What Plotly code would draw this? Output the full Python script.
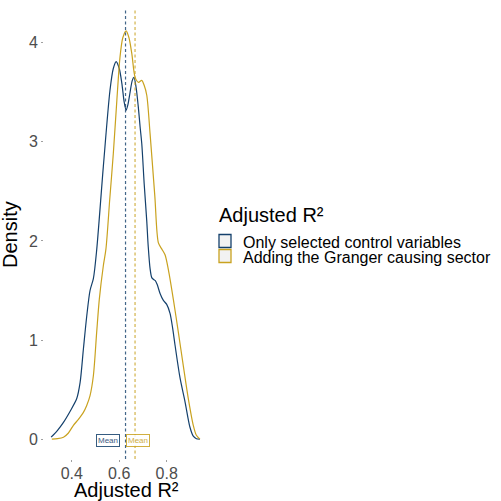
import plotly.graph_objects as go

# ---- data ----
series_names = ["Only selected control variables", "Adding the Granger causing sector"]

blue_x = [0.313, 0.34, 0.365, 0.395, 0.421, 0.435, 0.449, 0.463, 0.477, 0.491, 0.505,
          0.533, 0.561, 0.575, 0.587, 0.600, 0.611, 0.621, 0.629, 0.637, 0.645, 0.655,
          0.662, 0.671, 0.680, 0.688, 0.695, 0.705, 0.716, 0.722, 0.730, 0.737, 0.745,
          0.752, 0.760, 0.772, 0.786, 0.800, 0.814, 0.825, 0.835, 0.856, 0.877, 0.898,
          0.912, 0.925, 0.94]
blue_y = [0.02, 0.09, 0.17, 0.29, 0.41, 0.57, 0.91, 1.24, 1.50, 1.62, 1.91,
          2.75, 3.52, 3.74, 3.81, 3.74, 3.59, 3.40, 3.32, 3.38, 3.49, 3.62,
          3.65, 3.55, 3.36, 3.15, 2.98, 2.58, 2.2, 1.95, 1.72, 1.63, 1.61,
          1.60, 1.56, 1.47, 1.40, 1.36, 1.27, 1.12, 0.95, 0.62, 0.38, 0.12,
          0.03, 0.005, 0.0]

gold_x = [0.316, 0.34, 0.365, 0.385, 0.407, 0.428, 0.449, 0.463, 0.477, 0.491, 0.505,
          0.516, 0.533, 0.544, 0.560, 0.575, 0.590, 0.603, 0.615, 0.629, 0.641, 0.653,
          0.667, 0.681, 0.695, 0.705, 0.716, 0.730, 0.750, 0.765, 0.779, 0.793, 0.807,
          0.828, 0.849, 0.870, 0.891, 0.912, 0.925, 0.94]
gold_y = [0.0, 0.005, 0.02, 0.06, 0.14, 0.2, 0.27, 0.34, 0.44, 0.64, 1.08,
          1.41, 1.75, 1.92, 2.42, 2.88, 3.42, 3.85, 4.05, 4.12, 4.05, 3.89,
          3.65, 3.60, 3.62, 3.57, 3.47, 3.08, 2.45, 1.98, 1.92, 1.86, 1.71,
          1.41, 1.08, 0.74, 0.41, 0.14, 0.04, 0.0]

means = [0.6265, 0.6666]
mean_label = "Mean"

x_ticks = [0.4, 0.6, 0.8]
y_ticks = [0, 1, 2, 3, 4]

# ---- style ----
colors = ["#14406c", "#c9a21f"]
FONT = "Liberation Sans, Arial, sans-serif"

W, H = 501, 501
# plot area in window pixels: x 44..208, y 9..459
PL, PR, PT, PB = 44, 208, 9, 459
L, R, T, B = PL, W - PR, PT, H - PB
PW, PH = PR - PL, PB - PT


def px2paper_x(px):
    return (px - PL) / PW


def px2paper_y(py):
    return (PB - py) / PH


fig = go.Figure()

for xs, ys, c, n in [(blue_x, blue_y, colors[0], series_names[0]),
                     (gold_x, gold_y, colors[1], series_names[1])]:
    fig.add_trace(go.Scatter(x=xs, y=ys, mode="lines", name=n,
                             line=dict(color=c, width=1.2, shape="spline", smoothing=0.8),
                             showlegend=False, hoverinfo="skip"))

# mean lines
for m, c in zip(means, colors):
    fig.add_shape(type="line", xref="x", yref="paper", x0=m, x1=m, y0=0, y1=1,
                  line=dict(color=c, width=1.2, dash="3px,2.5px"), opacity=0.8, layer="above")

# mean labels
for m, c, xs in zip(means, colors, [-18, 3]):
    fig.add_annotation(x=m, y=0, xref="x", yref="y", text=mean_label, showarrow=False,
                       xanchor="center", yanchor="middle", xshift=xs, yshift=-1,
                       font=dict(family=FONT, size=8, color=c),
                       bordercolor=c, borderwidth=1, borderpad=1, bgcolor="white",
                       opacity=0.85)

# axis titles
fig.add_annotation(x=0.5, y=px2paper_y(490), xref="paper", yref="paper",
                   text="Adjusted R²", showarrow=False, xanchor="center", yanchor="middle",
                   font=dict(family=FONT, size=20, color="black"))
fig.add_annotation(x=px2paper_x(10), y=px2paper_y(235), xref="paper", yref="paper",
                   text="Density", showarrow=False, textangle=-90,
                   xanchor="center", yanchor="middle",
                   font=dict(family=FONT, size=20, color="black"))

# legend (manual)
fig.add_annotation(x=px2paper_x(217), y=px2paper_y(215), xref="paper", yref="paper",
                   text="Adjusted R²", showarrow=False, xanchor="left", yanchor="middle",
                   font=dict(family=FONT, size=20, color="black"))
key_tops = [234, 249]
for i, (c, n) in enumerate(zip(colors, series_names)):
    y0 = key_tops[i]
    fig.add_shape(type="rect", xref="paper", yref="paper",
                  x0=px2paper_x(219), x1=px2paper_x(231),
                  y0=px2paper_y(y0 + 13.5), y1=px2paper_y(y0 + 0.5),
                  line=dict(color=c, width=1.3), fillcolor="#f2f2f2")
    fig.add_annotation(x=px2paper_x(241), y=px2paper_y(y0 + 8), xref="paper", yref="paper",
                       text=n, showarrow=False, xanchor="left", yanchor="middle",
                       font=dict(family=FONT, size=16, color="black"))

fig.update_layout(
    width=W, height=H,
    margin=dict(l=L, r=R, t=T, b=B, pad=0),
    plot_bgcolor="white", paper_bgcolor="white",
    showlegend=False,
    font=dict(family=FONT),
)
fig.update_xaxes(range=[0.283, 0.974], tickvals=x_ticks, ticktext=[str(v) for v in x_ticks],
                 showgrid=False, zeroline=False, showline=False,
                 ticks="outside", ticklen=2, tickcolor="#a0a0a0",
                 ticklabelstandoff=-2,
                 tickfont=dict(family=FONT, size=16, color="#4d4d4d"))
fig.update_yaxes(range=[-0.2, 4.34], tickvals=y_ticks, ticktext=[str(v) for v in y_ticks],
                 showgrid=False, zeroline=False, showline=False,
                 ticks="outside", ticklen=2, tickcolor="#a0a0a0",
                 tickfont=dict(family=FONT, size=16, color="#4d4d4d"))

fig.write_html("out.html", config={"displayModeBar": False},
               post_script="document.body.style.margin='0px';")
